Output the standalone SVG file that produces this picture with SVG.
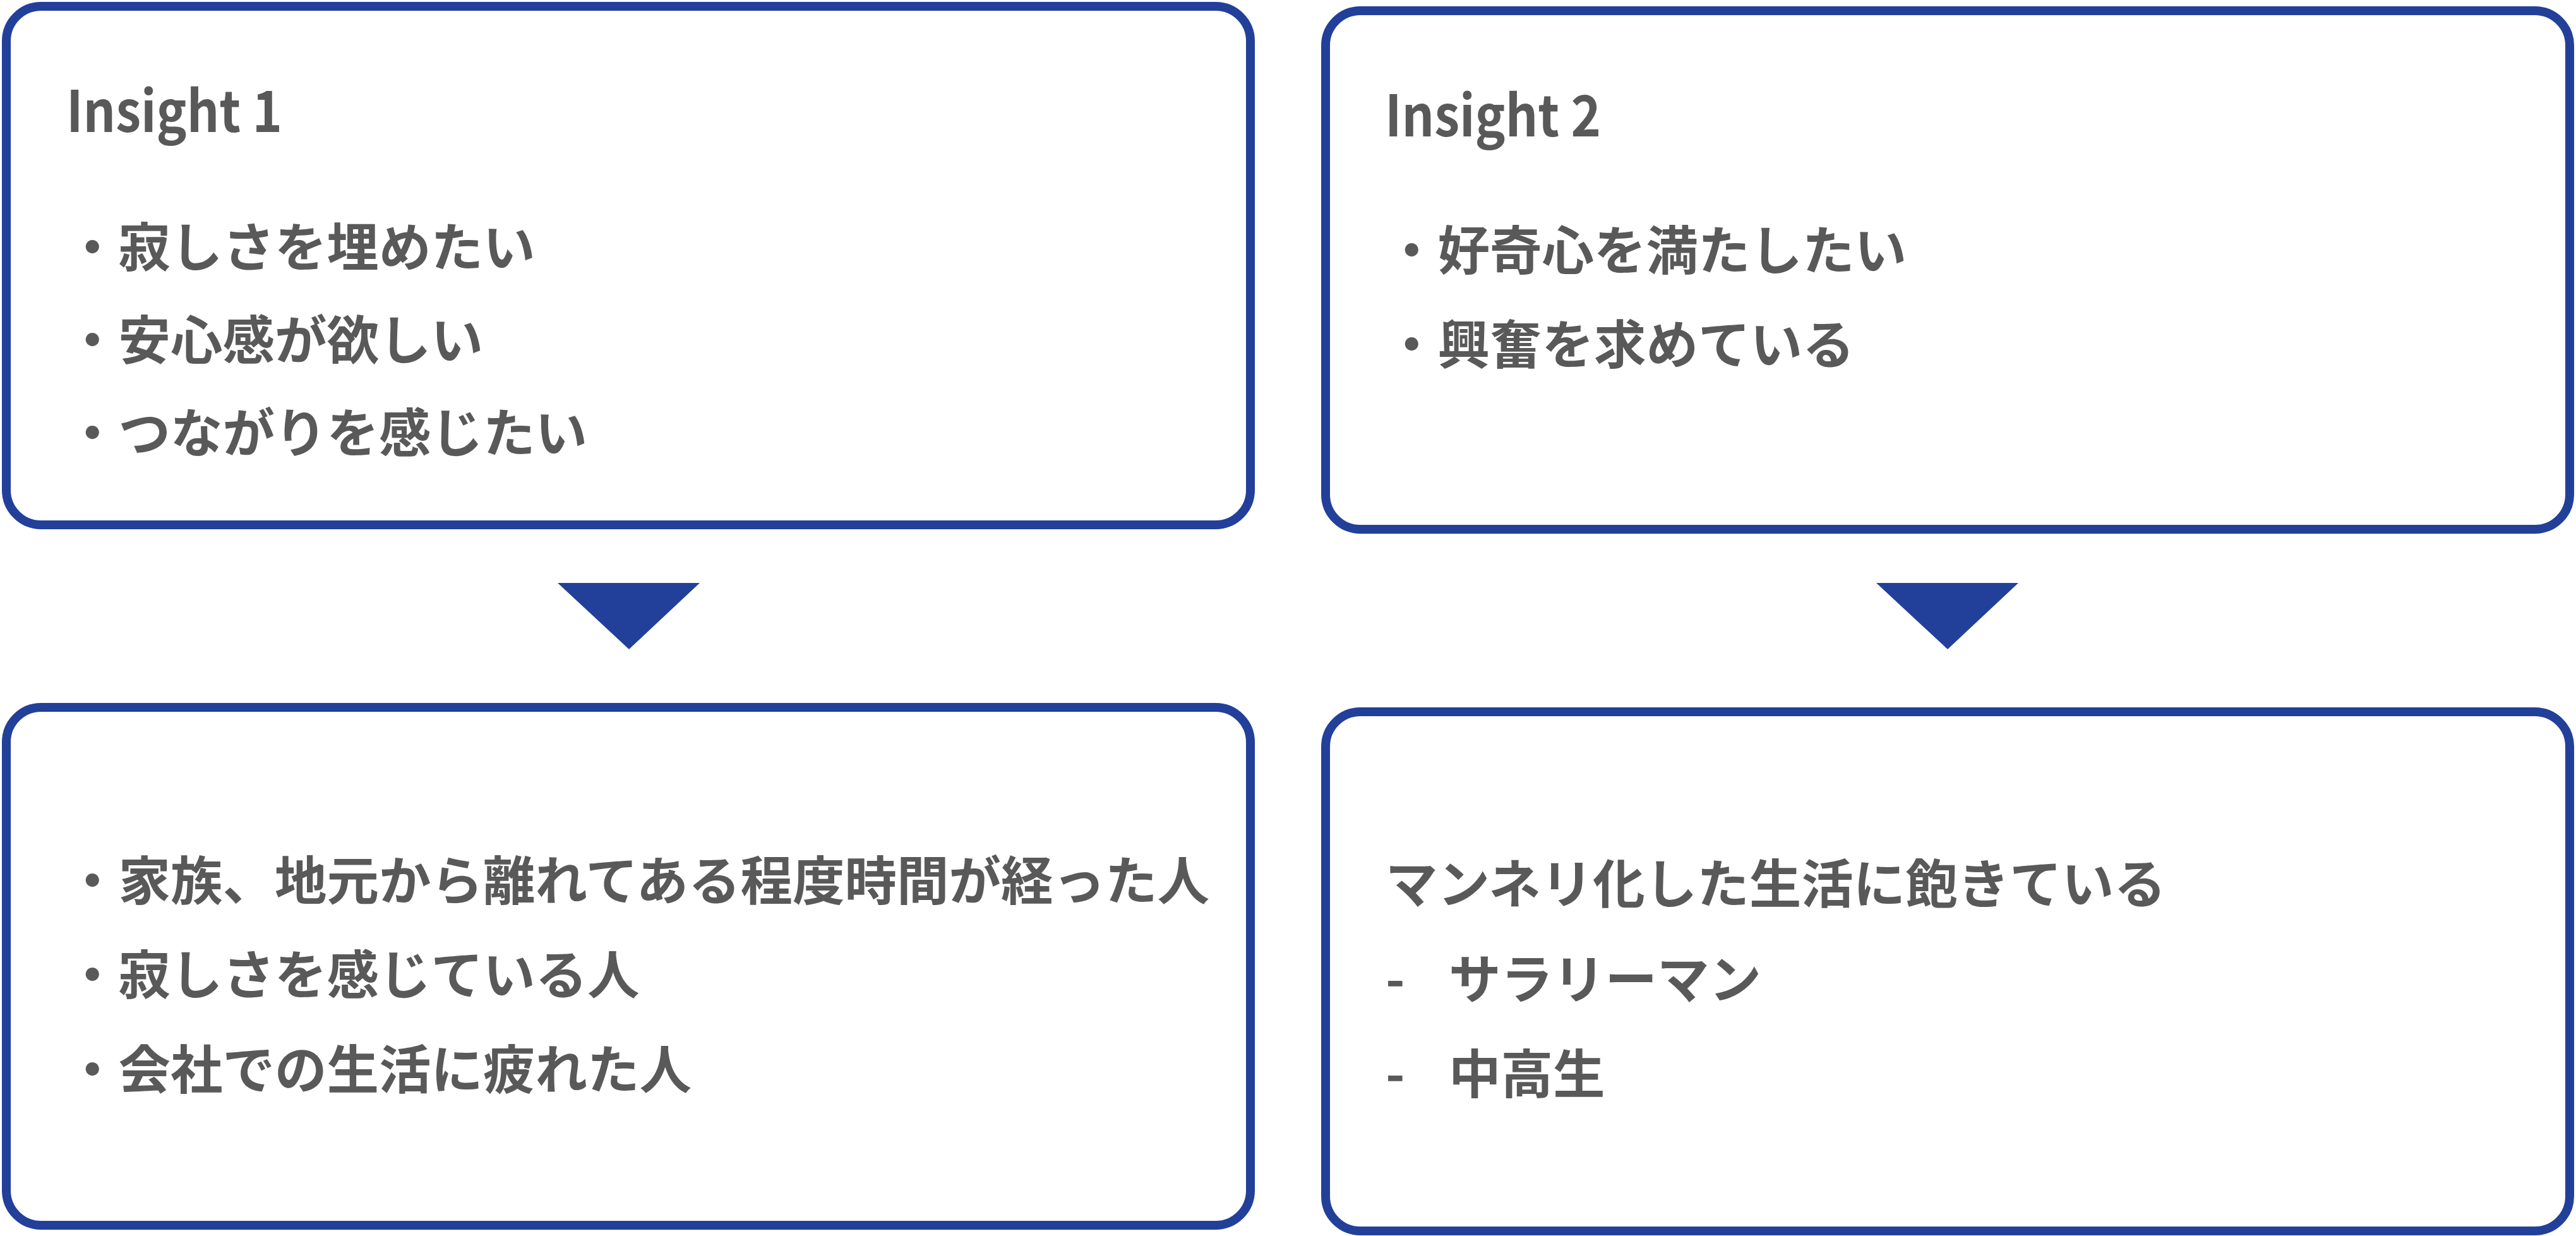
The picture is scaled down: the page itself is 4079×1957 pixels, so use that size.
<svg xmlns="http://www.w3.org/2000/svg" width="4079" height="1957" viewBox="0 0 4079 1957">
<style>
.box{fill:#ffffff;stroke:#22409A;stroke-width:14}
.t{font-family:"Noto Sans CJK JP","Noto Sans",sans-serif;font-weight:bold;fill:#595959;font-size:82.5px}
.h{font-family:"Noto Sans CJK JP","Noto Sans",sans-serif;font-weight:bold;fill:#595959;font-size:90px}
.arrow{fill:#22409A}
</style>
<rect width="4079" height="1957" fill="#ffffff"/>
<g id="insight1">
<rect class="box" x="10" y="10" width="1970" height="821" rx="55" ry="55"/>
<text class="h" x="105" y="209" textLength="342" lengthAdjust="spacingAndGlyphs">Insight 1</text>
<text class="t" x="105" y="422">・寂しさを埋めたい</text>
<text class="t" x="105" y="569">・安心感が欲しい</text>
<text class="t" x="105" y="716">・つながりを感じたい</text>
</g>
<g id="insight2">
<rect class="box" x="2099" y="17" width="1970" height="821" rx="55" ry="55"/>
<text class="h" x="2193" y="216" textLength="342" lengthAdjust="spacingAndGlyphs">Insight 2</text>
<text class="t" x="2194" y="427">・好奇心を満たしたい</text>
<text class="t" x="2194" y="576">・興奮を求めている</text>
</g>
<g id="target1">
<rect class="box" x="10" y="1120" width="1970" height="820" rx="55" ry="55"/>
<text class="t" x="105" y="1425">・家族、地元から離れてある程度時間が経った人</text>
<text class="t" x="105" y="1574">・寂しさを感じている人</text>
<text class="t" x="105" y="1724">・会社での生活に疲れた人</text>
</g>
<g id="target2">
<rect class="box" x="2099" y="1127" width="1970" height="822" rx="55" ry="55"/>
<text class="t" x="2194" y="1430">マンネリ化した生活に飽きている</text>
<text class="t" x="2194" y="1581">-</text>
<text class="t" x="2294" y="1581">サラリーマン</text>
<text class="t" x="2194" y="1731">-</text>
<text class="t" x="2294" y="1731">中高生</text>
</g>
<g id="connectors">
<polygon class="arrow" points="883,923 1108,923 996,1028"/>
<polygon class="arrow" points="2971,923 3196,923 3084,1028"/>
</g>
</svg>
